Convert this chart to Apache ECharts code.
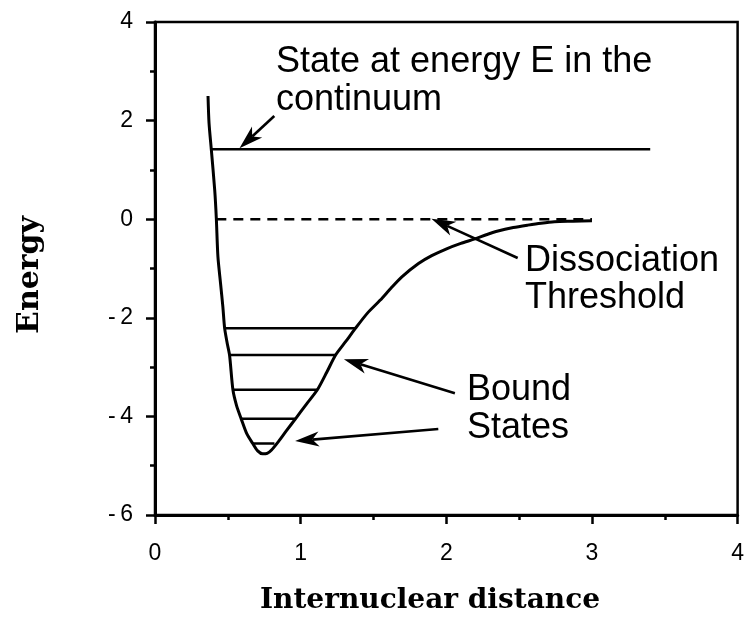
<!DOCTYPE html>
<html>
<head>
<meta charset="utf-8">
<script src="https://cdn.jsdelivr.net/npm/echarts@6/dist/echarts.min.js"></script>
<style>
  html, body { margin: 0; padding: 0; background: #fff; }
  #chart { width: 747px; height: 618px; }
</style>
</head>
<body>
<div id="chart"></div>
<script>
// Potential energy curve: internuclear distance vs energy
const curveX = [0.364, 0.371, 0.387, 0.410, 0.421, 0.432, 0.450, 0.466, 0.478, 0.496, 0.512, 0.535,
                0.560, 0.592, 0.630, 0.671, 0.705, 0.739, 0.770, 0.800, 0.850, 0.900, 0.967, 1.040,
                1.115, 1.180, 1.240, 1.310, 1.377, 1.460, 1.547, 1.620, 1.695, 1.809, 1.900, 2.002,
                2.100, 2.196, 2.280, 2.355, 2.460, 2.560, 2.650, 2.742, 2.870, 3.000];
const curveY = [2.50, 1.95, 1.40, 0.59, 0.02, -0.76, -1.30, -1.78, -2.21, -2.52, -2.76, -3.46,
                -3.78, -4.05, -4.35, -4.55, -4.70, -4.76, -4.75, -4.68, -4.50, -4.30, -4.04, -3.75,
                -3.46, -3.10, -2.755, -2.48, -2.21, -1.90, -1.64, -1.40, -1.17, -0.90, -0.74, -0.60,
                -0.49, -0.40, -0.31, -0.24, -0.17, -0.12, -0.08, -0.05, -0.04, -0.03];

// Bound vibrational levels: energy and the two classical turning points
const boundE     = [-2.21, -2.755, -3.46, -4.05, -4.55];
const boundLeft  = [0.478, 0.512, 0.535, 0.592, 0.671];
const boundRight = [1.377, 1.240, 1.115, 0.967, 0.820];

// Continuum state at energy E
const continuumE = 1.42;
const continuumX = [0.387, 3.40];

// Dissociation threshold (dashed)
const thresholdE = 0;
const thresholdX = [0.421, 3.00];

// Annotation arrows, tail -> head
const arrowFromX = [0.819, 2.490, 2.059, 1.945];
const arrowFromY = [2.093, -0.787, -3.53, -4.256];
const arrowToX   = [0.580, 1.898, 1.297, 0.962];
const arrowToY   = [1.440, 0.010, -2.84, -4.50];

// Axis ranges and ticks
const xTicks = [0, 1, 2, 3, 4];
const yTicks = [-6, -4, -2, 0, 2, 4];

const SANS = '"Liberation Sans", Arial, Helvetica, sans-serif';
const SERIF = '"DejaVu Serif", "Liberation Serif", serif';

const chart = echarts.init(document.getElementById('chart'), null, { renderer: 'canvas' });

function hLine(y, xs, dashed, width) {
  return {
    type: 'line',
    data: [[xs[0], y], [xs[1], y]],
    showSymbol: false,
    silent: true,
    animation: false,
    lineStyle: { color: '#000', width: width, type: dashed ? [10, 7] : 'solid' }
  };
}

const series = [];

series.push({
  type: 'line',
  data: curveX.map((x, i) => [x, curveY[i]]),
  showSymbol: false,
  silent: true,
  animation: false,
  smooth: 0.25,
  lineStyle: { color: '#000', width: 3, join: 'round' }
});

series.push(hLine(continuumE, continuumX, false, 2.5));
series.push(hLine(thresholdE, thresholdX, true, 2.5));
boundE.forEach((e, i) => series.push(hLine(e, [boundLeft[i], boundRight[i]], false, 2.5)));

series.push({
  type: 'custom',
  silent: true,
  animation: false,
  data: arrowFromX.map((x, i) => [x, arrowFromY[i], arrowToX[i], arrowToY[i]]),
  renderItem: function (params, api) {
    const a = api.coord([api.value(0), api.value(1)]);
    const b = api.coord([api.value(2), api.value(3)]);
    const dx = b[0] - a[0], dy = b[1] - a[1];
    const len = Math.sqrt(dx * dx + dy * dy);
    const ux = dx / len, uy = dy / len;
    const nx = -uy, ny = ux;
    const L = 24, W = 7.5;
    const back = [b[0] - L * ux, b[1] - L * uy];
    const notch = [b[0] - 0.72 * L * ux, b[1] - 0.72 * L * uy];
    return {
      type: 'group',
      children: [
        {
          type: 'line',
          shape: { x1: a[0], y1: a[1], x2: notch[0], y2: notch[1] },
          style: { stroke: '#000', lineWidth: 2.6 }
        },
        {
          type: 'polygon',
          shape: {
            points: [b,
              [back[0] + W * nx, back[1] + W * ny],
              notch,
              [back[0] - W * nx, back[1] - W * ny]]
          },
          style: { fill: '#000' }
        }
      ]
    };
  }
});

const option = {
  backgroundColor: '#fff',
  animation: false,
  grid: {
    left: 155, right: 6, top: 22, bottom: 103,
    show: true, borderColor: '#000', borderWidth: 2.5, backgroundColor: 'transparent'
  },
  xAxis: {
    type: 'value',
    min: xTicks[0], max: xTicks[xTicks.length - 1], interval: 1,
    axisLine: { onZero: false, lineStyle: { color: '#000', width: 3 } },
    axisTick: { inside: false, length: 9, lineStyle: { color: '#000', width: 2.5 } },
    minorTick: { show: true, splitNumber: 2, length: 5, lineStyle: { color: '#000', width: 2.5 } },
    splitLine: { show: false },
    axisLabel: { color: '#000', fontSize: 23, fontFamily: SANS, margin: 27 }
  },
  yAxis: {
    type: 'value',
    min: yTicks[0], max: yTicks[yTicks.length - 1], interval: 2,
    axisLine: { onZero: false, lineStyle: { color: '#000', width: 3 } },
    axisTick: { inside: false, length: 9, lineStyle: { color: '#000', width: 2.5 } },
    minorTick: { show: true, splitNumber: 2, length: 5, lineStyle: { color: '#000', width: 2.5 } },
    splitLine: { show: false },
    axisLabel: {
      color: '#000', fontSize: 23, fontFamily: SANS, margin: 22,
      formatter: v => (v < 0 ? '-\u2009' + Math.abs(v) : String(v))
    }
  },
  graphic: [
    { type: 'text', x: 276, y: 62, style: { text: 'State at energy E in the', font: '36px ' + SANS, fill: '#000', align: 'left', verticalAlign: 'middle' } },
    { type: 'text', x: 276, y: 100, style: { text: 'continuum', font: '36px ' + SANS, fill: '#000', align: 'left', verticalAlign: 'middle' } },
    { type: 'text', x: 525, y: 261, style: { text: 'Dissociation', font: '36px ' + SANS, fill: '#000', align: 'left', verticalAlign: 'middle' } },
    { type: 'text', x: 525, y: 298, style: { text: 'Threshold', font: '36px ' + SANS, fill: '#000', align: 'left', verticalAlign: 'middle' } },
    { type: 'text', x: 467, y: 390, style: { text: 'Bound', font: '36px ' + SANS, fill: '#000', align: 'left', verticalAlign: 'middle' } },
    { type: 'text', x: 467, y: 428, style: { text: 'States', font: '36px ' + SANS, fill: '#000', align: 'left', verticalAlign: 'middle' } },
    { type: 'text', x: 430, y: 601, style: { text: 'Internuclear distance', font: 'bold 28px ' + SERIF, fill: '#000', align: 'center', verticalAlign: 'middle' } },
    { type: 'text', x: 30, y: 275, rotation: Math.PI / 2, style: { text: 'Energy', font: 'bold 30px ' + SERIF, fill: '#000', align: 'center', verticalAlign: 'middle' } }
  ],
  series: series
};

chart.setOption(option);
</script>
</body>
</html>
